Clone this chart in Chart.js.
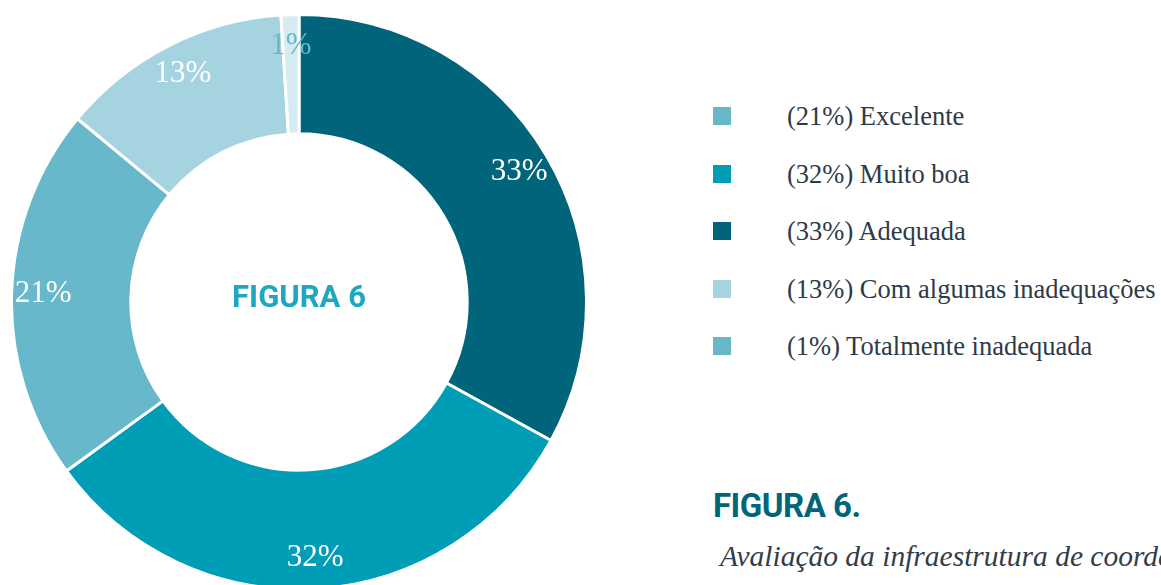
<!DOCTYPE html>
<html>
<head>
<meta charset="utf-8">
<script src="https://cdn.jsdelivr.net/npm/chart.js@4.4.1/dist/chart.umd.min.js"></script>
<style>
  html, body { margin: 0; padding: 0; background: #fff; width: 1161px; height: 585px; overflow: hidden; }
  #donutBox { position: absolute; left: 10px; top: 13px; width: 578px; height: 578px; }
  #legenda { position: absolute; left: 713px; top: 0; }
  .item { position: absolute; left: 0; white-space: nowrap; font-family: "Liberation Serif", serif; font-size: 26.5px; color: #2e3a48; }
  .item span.box { position: absolute; left: 0; top: 7px; width: 18px; height: 18px; }
  .item span.txt { position: absolute; left: 74px; top: 0; line-height: 32px; }
  #titulo { position: absolute; left: 713px; top: 486px; font-family: Roboto, sans-serif; font-weight: 700; font-size: 33px; color: #00657a; letter-spacing: -0.5px; }
  #subtitulo { position: absolute; left: 720px; top: 540px; font-family: "Liberation Serif", serif; font-style: italic; font-size: 29.5px; color: #333d4a; white-space: nowrap; }
</style>
</head>
<body>
<div id="donutBox"><canvas id="graficoFigura6"></canvas></div>
<div id="legenda"></div>
<div id="titulo">FIGURA 6.</div>
<div id="subtitulo">Avaliação da infraestrutura de coordenação</div>
<script>
// Dados do gráfico (ordem no anel, a partir do topo, sentido horário)
const categorias = ['Adequada', 'Muito boa', 'Excelente', 'Com algumas inadequações', 'Totalmente inadequada'];
const valores = [33, 32, 21, 13, 1];
const coresAnel = ['#00657a', '#009db6', '#67b8ca', '#a6d3e0', '#d4ebf1'];
const coresRotulo = ['#ffffff', '#ffffff', '#ffffff', '#ffffff', '#67b8ca'];

// Legenda (ordem da figura original)
const legendaTextos = ['(21%) Excelente', '(32%) Muito boa', '(33%) Adequada', '(13%) Com algumas inadequações', '(1%) Totalmente inadequada'];
const legendaCores = ['#68b8ca', '#009db5', '#00637a', '#a6d4e0', '#68b8ca'];

// Monta a legenda em HTML
const legenda = document.getElementById('legenda');
legendaTextos.forEach((texto, i) => {
    const item = document.createElement('div');
    item.className = 'item';
    item.style.top = (100 + i * 57.5) + 'px';
    item.innerHTML = `<span class="box" style="background:${legendaCores[i]}"></span><span class="txt">${texto}</span>`;
    legenda.appendChild(item);
});

// Plugin: porcentagens sobre os arcos e texto central
const rotulosPlugin = {
    id: 'rotulos',
    afterDatasetsDraw(chart) {
        const ctx = chart.ctx;
        const meta = chart.getDatasetMeta(0);
        ctx.save();
        ctx.textAlign = 'center';
        ctx.textBaseline = 'middle';
        ctx.font = '31px "Liberation Serif", serif';
        meta.data.forEach((arc, i) => {
            const mid = (arc.startAngle + arc.endAngle) / 2;
            const r = arc.outerRadius * 0.89;
            ctx.fillStyle = coresRotulo[i];
            ctx.fillText(valores[i] + '%', arc.x + Math.cos(mid) * r, arc.y + Math.sin(mid) * r);
        });
        const c = meta.data[0];
        ctx.font = '700 31px Roboto, sans-serif';
        ctx.fillStyle = '#1fa7c2';
        ctx.fillText('FIGURA 6', c.x, c.y - 3);
        ctx.restore();
    }
};

const ctx = document.getElementById('graficoFigura6').getContext('2d');
const grafico = new Chart(ctx, {
    type: 'doughnut',
    data: {
        labels: categorias,
        datasets: [{
            data: valores,
            backgroundColor: coresAnel,
            borderColor: '#ffffff',
            borderWidth: 3,
            hoverOffset: 0
        }]
    },
    options: {
        responsive: true,
        maintainAspectRatio: false,
        animation: false,
        cutout: '58.5%',
        layout: { padding: 0 },
        plugins: {
            legend: { display: false },
            tooltip: { enabled: false }
        }
    },
    plugins: [rotulosPlugin]
});
</script>
</body>
</html>
